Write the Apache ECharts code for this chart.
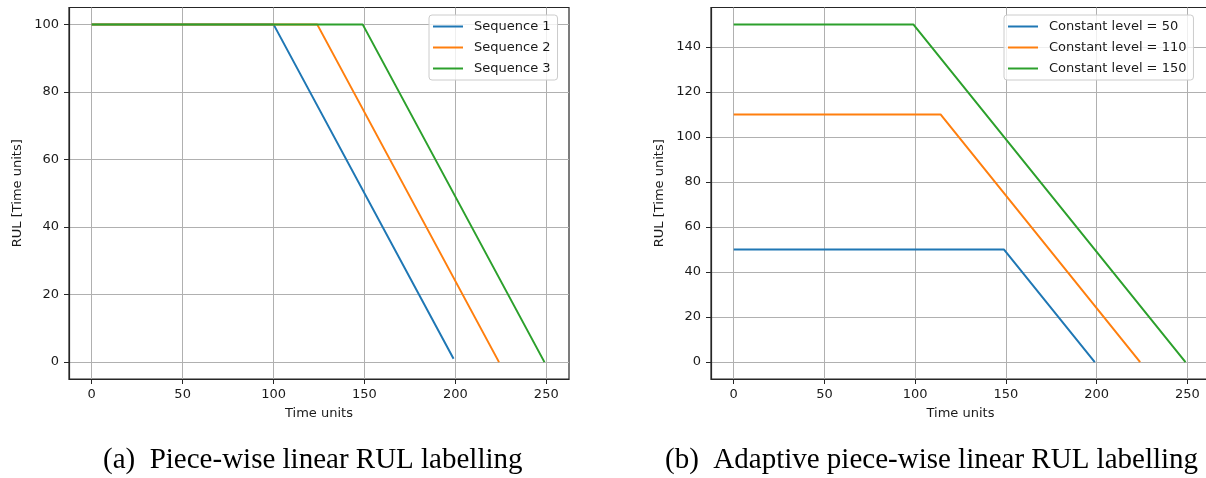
<!DOCTYPE html>
<html>
<head>
<meta charset="utf-8">
<script src="https://cdn.jsdelivr.net/npm/echarts@6/dist/echarts.min.js"></script>
<style>
html,body{margin:0;padding:0;background:#fff;}
#c{width:1206px;height:478px;}
</style>
</head>
<body>
<div id="c"></div>
<script>
// ---- data ----
const xTicks = [0, 50, 100, 150, 200, 250];
const yTicksA = [0, 20, 40, 60, 80, 100];
const yTicksB = [0, 20, 40, 60, 80, 100, 120, 140];
const seqNames = ['Sequence 1', 'Sequence 2', 'Sequence 3'];
const levelNames = ['Constant level = 50', 'Constant level = 110', 'Constant level = 150'];
// breakpoints [time, RUL]
const seq1 = [[0, 100], [100, 100], [199, 1]];
const seq2 = [[0, 100], [124, 100], [224, 0]];
const seq3 = [[0, 100], [149, 100], [249, 0]];
const lvl50 = [[0, 50], [149, 50], [199, 0]];
const lvl110 = [[0, 110], [114, 110], [224, 0]];
const lvl150 = [[0, 150], [99, 150], [249, 0]];
const captionA = '(a)  Piece-wise linear RUL labelling';
const captionB = '(b)  Adaptive piece-wise linear RUL labelling';

const colors = ['#1f77b4', '#ff7f0e', '#2ca02c'];
const font = 'DejaVu Sans';
const txt = '#1a1a1a';

function xAxisCfg(idx) {
  return {
    type: 'value', gridIndex: idx, min: -12.5, max: 262.5,
    name: 'Time units', nameLocation: 'middle', nameGap: 28,
    nameTextStyle: { fontFamily: font, fontSize: 13, color: txt },
    axisLine: { show: true, onZero: false, lineStyle: { color: '#262626', width: 1.2 } },
    axisTick: { show: true, customValues: xTicks, length: 5, lineStyle: { color: '#262626', width: 1 } },
    axisLabel: { customValues: xTicks, margin: 9, fontFamily: font, fontSize: 13, color: txt },
    splitLine: { show: true, lineStyle: { color: '#b0b0b0', width: 1 } }
  };
}
function yAxisCfg(idx, min, max, ticks) {
  return {
    type: 'value', gridIndex: idx, min: min, max: max,
    name: 'RUL [Time units]', nameLocation: 'middle', nameGap: 45,
    nameTextStyle: { fontFamily: font, fontSize: 13, color: txt },
    axisLine: { show: true, onZero: false, lineStyle: { color: '#262626', width: 1.2 } },
    axisTick: { show: true, customValues: ticks, length: 5, lineStyle: { color: '#262626', width: 1 } },
    axisLabel: { customValues: ticks, margin: 10, fontFamily: font, fontSize: 13, color: txt },
    splitLine: { show: true, lineStyle: { color: '#b0b0b0', width: 1 } }
  };
}
function lineSeries(name, data, ci, gi) {
  return {
    type: 'line', name: name, data: data, xAxisIndex: gi, yAxisIndex: gi,
    showSymbol: false, symbol: 'none', animation: false,
    lineStyle: { color: colors[ci], width: 2 }, itemStyle: { color: colors[ci] }
  };
}
function legendCfg(names, left, top) {
  return {
    data: names, orient: 'vertical', left: left, top: top,
    icon: 'rect', itemWidth: 30, itemHeight: 2, itemGap: 8,
    padding: [5, 7, 5, 4],
    backgroundColor: 'rgba(255,255,255,0.8)', borderColor: '#cccccc', borderWidth: 1, borderRadius: 3,
    textStyle: { fontFamily: font, fontSize: 13, color: txt, padding: [0, 0, 0, 6] },
    selectedMode: false
  };
}

const chart = echarts.init(document.getElementById('c'), null, { renderer: 'canvas' });
chart.setOption({
  animation: false,
  backgroundColor: '#ffffff',
  grid: [
    { left: 69, top: 7.5, width: 500, height: 371.5, show: true, borderColor: '#262626', borderWidth: 1.2, containLabel: false, outerBoundsMode: 'none' },
    { left: 711, top: 7.5, width: 499, height: 371.5, show: true, borderColor: '#262626', borderWidth: 1.2, containLabel: false, outerBoundsMode: 'none' }
  ],
  xAxis: [xAxisCfg(0), xAxisCfg(1)],
  yAxis: [yAxisCfg(0, -5, 105, yTicksA), yAxisCfg(1, -7.5, 157.5, yTicksB)],
  legend: [legendCfg(seqNames, 429, 15), legendCfg(levelNames, 1004, 15)],
  series: [
    lineSeries(seqNames[0], seq1, 0, 0),
    lineSeries(seqNames[1], seq2, 1, 0),
    lineSeries(seqNames[2], seq3, 2, 0),
    lineSeries(levelNames[0], lvl50, 0, 1),
    lineSeries(levelNames[1], lvl110, 1, 1),
    lineSeries(levelNames[2], lvl150, 2, 1)
  ],
  graphic: [
    { type: 'text', left: 103, top: 446, style: { text: captionA, font: '29px "Liberation Serif"', fill: '#000' } },
    { type: 'text', left: 665, top: 446, style: { text: captionB, font: '29px "Liberation Serif"', fill: '#000' } }
  ]
});
</script>
</body>
</html>
